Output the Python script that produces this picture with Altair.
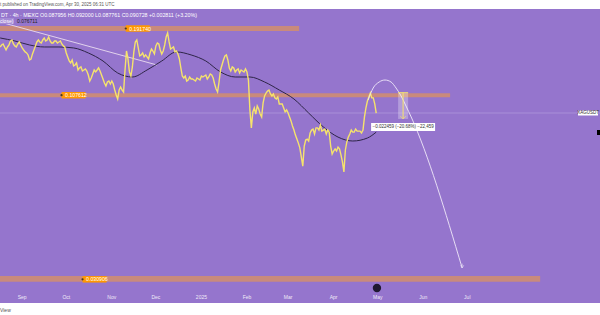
import altair as alt
import pandas as pd

# ---------------- data ----------------
# XAGUSDT price, one value per day starting 2024-08-17
price = [0.1628, 0.1657, 0.1672, 0.1628, 0.1585, 0.1628, 0.1657, 0.1717, 0.1732, 0.1672,
         0.1643, 0.1628, 0.1672, 0.1702, 0.1657, 0.1614, 0.1585, 0.1558, 0.1544, 0.1517,
         0.1451, 0.1464, 0.1531, 0.1585, 0.1643, 0.1702, 0.1732, 0.1702, 0.1687, 0.1732,
         0.1763, 0.1717, 0.1732, 0.1779, 0.1717, 0.1687, 0.1687, 0.1717, 0.1717, 0.1687,
         0.1702, 0.1717, 0.1672, 0.1643, 0.1628, 0.1544, 0.1491, 0.1438, 0.1413, 0.1451,
         0.1376, 0.1388, 0.1413, 0.1328, 0.1352, 0.1364, 0.1316, 0.1328, 0.1340, 0.1316,
         0.1270, 0.1204, 0.1237, 0.1282, 0.1328, 0.1305, 0.1328, 0.1352, 0.1316, 0.1270,
         0.1226, 0.1183, 0.1152, 0.1194, 0.1204, 0.1173, 0.1204, 0.1173, 0.1112, 0.1064,
         0.1027, 0.1112, 0.1142, 0.1112, 0.1093, 0.1328, 0.1571, 0.1464, 0.1305, 0.1259,
         0.1364, 0.1558, 0.1702, 0.1732, 0.1614, 0.1504, 0.1517, 0.1544, 0.1491, 0.1517,
         0.1491, 0.1464, 0.1544, 0.1599, 0.1571, 0.1531, 0.1643, 0.1687, 0.1672, 0.1585,
         0.1531, 0.1571, 0.1657, 0.1779, 0.1843, 0.1702, 0.1599, 0.1614, 0.1628, 0.1558,
         0.1571, 0.1531, 0.1464, 0.1352, 0.1259, 0.1237, 0.1259, 0.1204, 0.1215, 0.1248,
         0.1226, 0.1226, 0.1215, 0.1204, 0.1237, 0.1226, 0.1215, 0.1259, 0.1248, 0.1259,
         0.1270, 0.1226, 0.1248, 0.1282, 0.1270, 0.1237, 0.1173, 0.1122, 0.1093, 0.1194,
         0.1328, 0.1388, 0.1451, 0.1504, 0.1517, 0.1451, 0.1352, 0.1316, 0.1364, 0.1352,
         0.1305, 0.1328, 0.1340, 0.1293, 0.1328, 0.1316, 0.1305, 0.1340, 0.1305, 0.1215,
         0.0932, 0.0795, 0.0916, 0.0949, 0.0899, 0.0966, 0.0940, 0.0899, 0.0876, 0.0992,
         0.1055, 0.1083, 0.1102, 0.1112, 0.1074, 0.1055, 0.1074, 0.1037, 0.1027, 0.1046,
         0.0983, 0.0983, 0.0983, 0.0949, 0.0916, 0.0932, 0.0907, 0.0876, 0.0846, 0.0809,
         0.0780, 0.0746, 0.0720, 0.0695, 0.0666, 0.0615, 0.0567, 0.0677, 0.0714, 0.0720,
         0.0708, 0.0760, 0.0780, 0.0787, 0.0753, 0.0795, 0.0795, 0.0780, 0.0816, 0.0773,
         0.0780, 0.0787, 0.0753, 0.0780, 0.0766, 0.0677, 0.0631, 0.0648, 0.0660, 0.0648,
         0.0671, 0.0660, 0.0626, 0.0588, 0.0538, 0.0654, 0.0702, 0.0733, 0.0753, 0.0780,
         0.0766, 0.0766, 0.0787, 0.0773, 0.0773, 0.0773, 0.0760, 0.0780, 0.0876, 0.0949,
         0.1009, 0.1046, 0.1083, 0.1037, 0.1037, 0.0983, 0.0907]
price_dates = pd.date_range("2024-08-17", periods=len(price), freq="D").strftime("%Y-%m-%d").tolist()

# moving average (dark line)
ma_dates = ["2024-08-17", "2024-08-27", "2024-09-06", "2024-09-16", "2024-09-26", "2024-10-06",
            "2024-10-16", "2024-10-26", "2024-11-05", "2024-11-15", "2024-11-25", "2024-12-05",
            "2024-12-15", "2024-12-25", "2025-01-04", "2025-01-14", "2025-01-24", "2025-02-03",
            "2025-02-13", "2025-02-23", "2025-03-05", "2025-03-15", "2025-03-25", "2025-04-04",
            "2025-04-14", "2025-04-24", "2025-04-30"]
ma_values = [0.1763, 0.1717, 0.1657, 0.1628, 0.1628, 0.1614, 0.1544, 0.1438, 0.1293, 0.1248,
             0.1328, 0.1438, 0.1558, 0.1517, 0.1438, 0.1305, 0.1248, 0.1248, 0.1194, 0.1112,
             0.1027, 0.0907, 0.0802, 0.0733, 0.0708, 0.0727, 0.0766]

# descending trend line
trend_dates = ["2024-08-16T21:00", "2024-12-01T19:00"]
trend_values = [0.2031, 0.1388]

# projected path (drawing)
proj_dates = ["2025-04-24T12:00", "2025-04-27T22:00", "2025-05-02T00:00", "2025-05-06T00:00",
              "2025-05-10T02:00", "2025-05-13T12:00", "2025-05-16T22:00", "2025-05-20T07:00",
              "2025-05-23T19:00", "2025-06-27T12:00"]
proj_values = [0.1018, 0.1132, 0.1194, 0.1215, 0.1194, 0.1132, 0.1055, 0.0965, 0.0876, 0.0230]

# horizontal zones
zone_start = ["2024-08-01", "2024-08-01", "2024-08-01"]
zone_end = ["2025-03-08T12:00", "2025-06-19T07:00", "2025-08-19T14:00"]
zone_top = [0.1961, 0.1081, 0.02141]
zone_bottom = [0.1876, 0.1043, 0.02036]

# zone labels
label_text = ["0.191740", "0.107612", "0.030906"]
label_dates = ["2024-11-10T12:00", "2024-09-27T19:00", "2024-10-12T02:00"]
label_values = [0.19174, 0.1062, 0.0208]

# measurement
measure_start, measure_mid, measure_end = "2025-05-14T22:00", "2025-05-18T07:00", "2025-05-21T17:00"
measure_from, measure_to = 0.1086, 0.0861
measure_label = "\u22120.022459 (\u221220.68%) \u221222,459"
measure_label_value = 0.0802

last_price = 0.090728

month_labels = ["Sep", "Oct", "Nov", "Dec", "2025", "Feb", "Mar", "Apr", "May", "Jun", "Jul"]
month_dates = ["2024-09-01", "2024-10-01", "2024-11-01", "2024-12-01", "2025-01-01", "2025-02-01",
               "2025-03-01", "2025-04-01", "2025-05-01", "2025-06-01", "2025-07-01"]

header_top = "t published on TradingView.com, Apr 30, 2025 06:31 UTC"
header_ohlc = "DT \u00b7 4h \u00b7 MEXC  O0.087956  H0.092000  L0.087761  C0.090728  +0.002811 (+3.20%)"
header_ma_name = "close)"
header_ma_value = "0.076711"
footer_text = "View"

# ---------------- styles ----------------
BG = "#9575cd"
FONT = "Liberation Sans"

xs = alt.Scale(type="utc",
               domain=[alt.DateTime(year=2024, month=9, date=1, utc=True),
                       alt.DateTime(year=2025, month=7, date=1, utc=True)],
               range=[22.2, 467.3], nice=False)
ys = alt.Scale(type="log", domain=[0.090728, 0.19174], range=[113, 28.5], nice=False, zero=False)


def X(f="date"):
    return alt.X(f + ":T", scale=xs, axis=None)


def Y(f="price"):
    return alt.Y(f + ":Q", scale=ys, axis=None)


one = alt.Data(values=[{"k": 1}])

bg = alt.Chart(one).mark_rect(color=BG).encode(
    x=alt.value(0), x2=alt.value(600), y=alt.value(9), y2=alt.value(303))

zones_df = pd.DataFrame({"date": zone_start, "date2": zone_end, "price": zone_top, "price2": zone_bottom})
zones = alt.Chart(zones_df).mark_rect(color="#c98a7c", opacity=1).encode(
    x=X(), x2="date2:T", y=Y(), y2="price2:Q")

lp_df = pd.DataFrame({"price": [last_price]})
last_rule = alt.Chart(lp_df).mark_rule(color="#a990d8", strokeWidth=1).encode(
    y=Y(), x=alt.value(0), x2=alt.value(600))

trend = alt.Chart(pd.DataFrame({"date": trend_dates, "price": trend_values})).mark_line(
    color="#eadcef", strokeWidth=0.9).encode(x=X(), y=Y())

ma = alt.Chart(pd.DataFrame({"date": ma_dates, "price": ma_values})).mark_line(
    color="#2e2548", strokeWidth=1, interpolate="monotone").encode(x=X(), y=Y())

px = alt.Chart(pd.DataFrame({"date": price_dates, "price": price})).mark_line(
    color="#f6e36c", strokeWidth=1.4).encode(x=X(), y=Y())

proj_df = pd.DataFrame({"date": proj_dates, "price": proj_values})
proj = alt.Chart(proj_df).mark_line(color="#efe9f8", strokeWidth=0.9, interpolate="monotone").encode(
    x=X(), y=Y())
proj_head = alt.Chart(proj_df.tail(1)).mark_point(
    shape="M-0.6,-1L0,0L0.6,-1M0,0L0,-1.6", size=30, color="#efe9f8", strokeWidth=0.8, filled=False).encode(
    x=X(), y=Y())

meas_df = pd.DataFrame({"date": [measure_start], "date2": [measure_end], "mid": [measure_mid],
                        "price": [measure_from], "price2": [measure_to], "lab": [measure_label_value],
                        "text": [measure_label]})
meas_rect = alt.Chart(meas_df).mark_rect(color="white", opacity=0.28).encode(
    x=X(), x2="date2:T", y=Y(), y2="price2:Q")
meas_top = alt.Chart(meas_df).mark_rule(color="#f6e36c", strokeWidth=1).encode(
    x=X(), x2="date2:T", y=Y())
meas_vert = alt.Chart(meas_df).mark_rule(color="#f6e36c", strokeWidth=1).encode(
    x=X("mid"), y=Y(), y2="price2:Q")
meas_arrow = alt.Chart(meas_df).mark_point(
    shape="M-1,-1L0,0L1,-1", size=30, color="#f6e36c", strokeWidth=1, filled=False).encode(
    x=X("mid"), y=Y("price2"))
meas_box = alt.Chart(meas_df).mark_point(
    shape="M-1,-0.125L1,-0.125L1,0.125L-1,0.125Z", size=4096, filled=True, color="white", opacity=1,
    strokeWidth=0).encode(x=X("mid"), y=Y("lab"))
meas_txt = alt.Chart(meas_df).mark_text(fontSize=4.5, font=FONT, color="#333333").encode(
    x=X("mid"), y=Y("lab"), text="text:N")

lab_df = pd.DataFrame({"date": label_dates, "price": label_values, "text": label_text})
lab_box = alt.Chart(lab_df).mark_point(
    shape="M0,-0.27L2,-0.27L2,0.27L0,0.27Z", size=576, filled=True, color="#ff9800", opacity=1,
    strokeWidth=0).encode(x=X(), y=Y())
lab_dot = alt.Chart(lab_df).mark_point(filled=True, color="#4a3a1a", size=5, opacity=1).encode(
    x=X(), y=Y())
lab_txt = alt.Chart(lab_df).mark_text(align="left", dx=3.5, fontSize=5.2, font=FONT, color="white").encode(
    x=X(), y=Y(), text="text:N")

sym_box = alt.Chart(lp_df).mark_point(
    shape="M-1,-0.25L1,-0.25L1,0.25L-1,0.25Z", size=400, filled=True, color="white", opacity=1,
    strokeWidth=0).encode(x=alt.value(588), y=Y())
sym_txt = alt.Chart(pd.DataFrame({"price": [last_price], "text": ["XAGUSDT"]})).mark_text(
    fontSize=4.5, font=FONT, color="#333333").encode(x=alt.value(588), y=Y(), text="text:N")
black_sq = alt.Chart(one).mark_rect(color="black").encode(
    x=alt.value(597), x2=alt.value(600), y=alt.value(130), y2=alt.value(135))

icon = alt.Chart(pd.DataFrame({"date": ["2025-04-30T12:00"]})).mark_point(
    filled=True, color="#1f1830", size=70, opacity=1).encode(x=X(), y=alt.value(288))

months = alt.Chart(pd.DataFrame({"date": month_dates, "text": month_labels})).mark_text(
    fontSize=5, font=FONT, color="#f0eaf8").encode(x=X(), y=alt.value(297), text="text:N")

t_top = alt.Chart(one).mark_text(align="left", fontSize=4.5, font=FONT, color="#555555",
                                 text=header_top).encode(x=alt.value(0), y=alt.value(4.5))
t_ohlc = alt.Chart(one).mark_text(align="left", fontSize=5.3, font=FONT, color="#ffffff",
                                  text=header_ohlc).encode(x=alt.value(1), y=alt.value(14.5))
t_ma_box = alt.Chart(one).mark_rect(color="#a58bd6").encode(
    x=alt.value(0), x2=alt.value(14), y=alt.value(18), y2=alt.value(24))
t_ma_name = alt.Chart(one).mark_text(align="left", fontSize=5, font=FONT, color="#ffffff",
                                     text=header_ma_name).encode(x=alt.value(0), y=alt.value(21))
t_ma_val = alt.Chart(one).mark_text(align="left", fontSize=5, font=FONT, color="#222222",
                                    text=header_ma_value).encode(x=alt.value(17), y=alt.value(21))
t_foot = alt.Chart(one).mark_text(align="left", fontSize=5, font=FONT, color="#555555",
                                  text=footer_text).encode(x=alt.value(0), y=alt.value(309.5))

chart = alt.layer(
    bg, zones, last_rule, trend, ma, px, proj, proj_head,
    meas_rect, meas_top, meas_vert, meas_arrow, meas_box, meas_txt,
    lab_box, lab_dot, lab_txt, sym_box, sym_txt, black_sq, icon, months,
    t_top, t_ohlc, t_ma_box, t_ma_name, t_ma_val, t_foot,
).properties(
    width=600, height=315, autosize=alt.AutoSizeParams(type="none"), padding=0,
    background="white",
).configure_view(stroke=None).configure_text(baseline="middle")

chart.save("out.html", embed_options={"renderer": "svg", "actions": False})
